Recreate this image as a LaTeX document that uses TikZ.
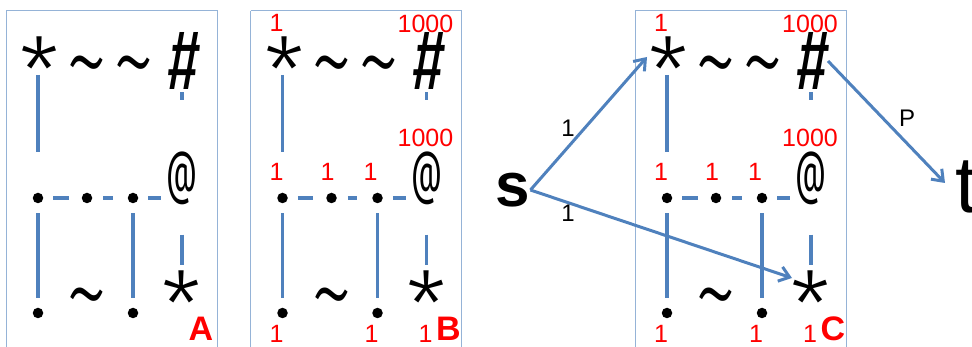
\documentclass[tikz,border=0pt]{standalone}
\usepackage{fontspec}
\setmainfont{Liberation Sans}
\newfontfamily\symf{Fira Sans Light}
\newfontfamily\symfx{Fira Sans ExtraLight}
\newfontfamily\symfr{Fira Sans}
\newfontfamily\symfs{Fira Sans}[FakeSlant=0.12]
\usetikzlibrary{arrows.meta}
\definecolor{lineblue}{RGB}{79,129,189}
\definecolor{boxblue}{RGB}{149,179,215}
\definecolor{lblred}{RGB}{255,0,0}
\tikzset{
  sym/.style={inner sep=0pt, outer sep=0pt},
  starsym/.style={inner sep=0pt, outer sep=0pt, anchor=base, font=\symf\fontsize{92}{92}\selectfont},
  tldsym/.style={inner sep=0pt, outer sep=0pt, anchor=base, font=\symfx\fontsize{92}{92}\selectfont},
  dotnode/.style={circle, fill=black, inner sep=0pt, minimum size=10.5pt},
  conn/.style={draw=lineblue, line width=3.2pt},
  arr/.style={draw=lineblue, line width=3pt, -{Straight Barb[length=10pt,width=15pt,line width=3pt]}},
  panelbox/.style={draw=boxblue, line width=1pt},
  rlbl/.style={text=lblred, inner sep=0pt, font=\fontsize{25}{25}\selectfont},
  plbl/.style={text=lblred, inner sep=0pt, font=\bfseries\fontsize{34}{34}\selectfont},
  blbl/.style={text=black, inner sep=0pt, font=\fontsize{24}{24}\selectfont},
}
\newcommand{\Hash}{\resizebox*{31pt}{57pt}{\symfs \#}}
\newcommand{\Atsign}{\resizebox*{31pt}{53pt}{\symfr @}}
\newcommand{\Tld}{\scalebox{1}[1.5]{\char`\~}}
\newcommand{\panel}[2]{%
  \begin{scope}[xshift=#1pt]
    \draw[panelbox] (6,11) -- (217,11) -- (217,360) (6,11) -- (6,360);
    \coordinate (#2s1) at (40,51);
    \coordinate (#2s2) at (182,284);
    \node[starsym] (#2s1t) at (40,105) {*};
    \node[tldsym] (#2t1) at (87,107) {\Tld};
    \node[tldsym] (#2t2) at (134,107) {\Tld};
    \node[sym] (#2h) at (182,61) {\Hash};
    \node[sym] (#2at) at (182,178) {\Atsign};
    \node[dotnode] (#2d1) at (38,198) {};
    \node[dotnode] (#2d2) at (87,198) {};
    \node[dotnode] (#2d3) at (133,198) {};
    \node[starsym] (#2s2t) at (182,338) {*};
    \node[dotnode] (#2d4) at (38,313) {};
    \node[dotnode] (#2d5) at (133,313) {};
    \node[tldsym] (#2t3) at (87,338) {\Tld};
    \draw[conn, shorten <=24pt, shorten >=41pt] (#2d1 |- #2s1) -- (#2d1);
    \draw[conn, shorten <=39pt, shorten >=59pt] (#2at |- #2h) -- (#2at);
    \draw[conn, shorten <=10pt, shorten >=13pt] (#2d1) -- (#2d2);
    \draw[conn, shorten <=11pt, shorten >=15pt] (#2d2) -- (#2d3);
    \draw[conn, shorten <=10pt, shorten >=21pt] (#2d3) -- (#2at.center |- #2d3);
    \draw[conn, shorten <=10pt, shorten >=10pt] (#2d1) -- (#2d4);
    \draw[conn, shorten <=10pt, shorten >=10pt] (#2d3) -- (#2d5);
    \draw[conn, shorten <=30pt, shorten >=19pt] (#2at) -- (#2at |- #2s2);
  \end{scope}}
\newcommand{\labels}[2]{%
  \begin{scope}[xshift=#1pt]
    \node[rlbl] at (32,23) {1};
    \node[rlbl] at (181,24) {1000};
    \node[rlbl] at (181,138) {1000};
    \node[rlbl] at (32,172) {1};
    \node[rlbl] at (83,172) {1};
    \node[rlbl] at (126,172) {1};
    \node[rlbl] at (32,334) {1};
    \node[rlbl] at (127,334) {1};
    \node[rlbl] at (181,334) {1};
    \node[plbl] at (204,329) {#2};
  \end{scope}}
\begin{document}
\begin{tikzpicture}[x=1pt, y=-1pt]
  \useasboundingbox (0,0) rectangle (972,347);
  \clip (0,0) rectangle (972,347);
  \panel{0}{a}
  \node[plbl] at (201,329) {A};
  \panel{244.5}{b}
  \labels{244.5}{B}
  \panel{629}{c}
  \labels{629}{C}
  \node[inner sep=0pt, font=\bfseries\fontsize{62}{62}\selectfont] (s) at (513,190) {s};
  \node[inner sep=0pt, anchor=west, font=\fontsize{80}{80}\selectfont] (t) at (955,187) {t};
  \draw[arr] (s.east) -- ([xshift=-22pt, yshift=-6pt]cs1);
  \draw[arr] (s.east) -- ([xshift=-19pt, yshift=6pt]cs2);
  \draw[arr] ([xshift=17pt]ch.center) -- ([xshift=-10pt, yshift=4pt]t.west);
  \node[blbl] (l1) at (568,128) {1};
  \node[blbl] (l2) at (568,213) {1};
  \node[blbl] (lp) at (907,118) {P};
\end{tikzpicture}
\end{document}
